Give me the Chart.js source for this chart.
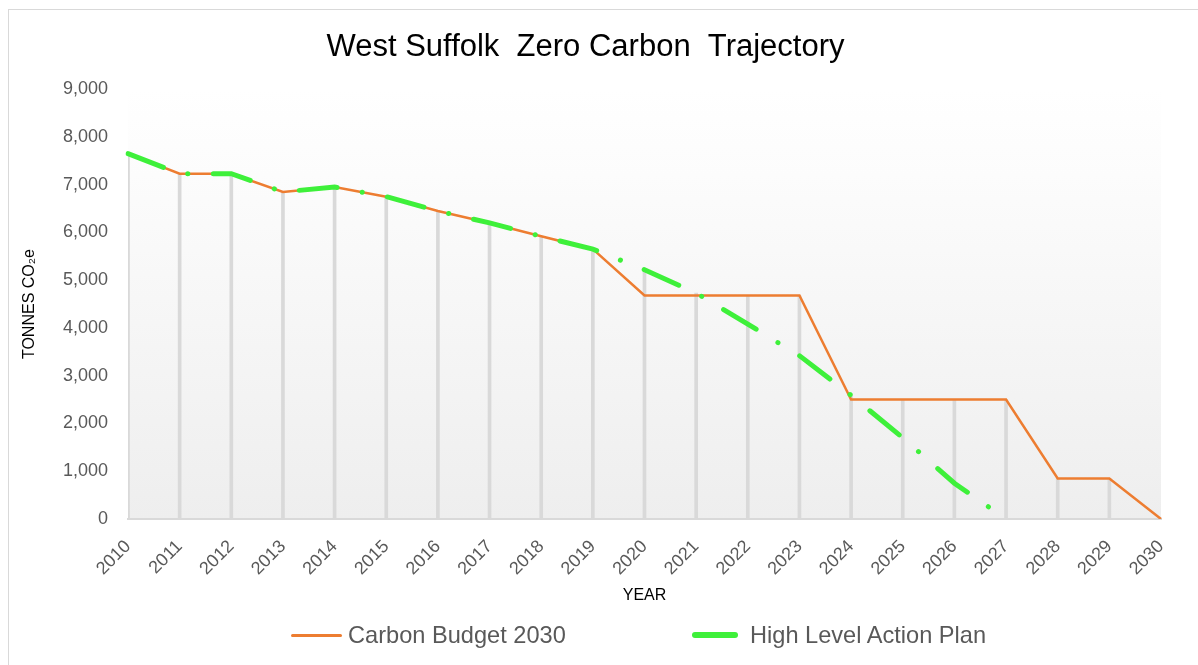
<!DOCTYPE html>
<html>
<head>
<meta charset="utf-8">
<title>West Suffolk Zero Carbon Trajectory</title>
<script src="https://cdn.jsdelivr.net/npm/chart.js@4.4.1/dist/chart.umd.min.js"></script>
<style>
  body { margin: 0; background: #fff; overflow: hidden; }
  #frame { position: absolute; left: 8px; top: 9px; width: 1250px; height: 700px; border: 1px solid #d9d9d9; }
  #wrap { position: absolute; left: 0; top: 0; width: 1198px; height: 665px; }
  .lg-swatch { position: absolute; }
  .lg-text { position: absolute; top: 621px; font: 23.6px "Liberation Sans", Arial, sans-serif; line-height: 28px; color: #595959; white-space: nowrap; }
</style>
</head>
<body>
<div id="frame"></div>
<div id="wrap"><canvas id="zeroChart"></canvas></div>
<div id="legend"></div>
<script>
const years = ['2010', '2011', '2012', '2013', '2014', '2015', '2016', '2017', '2018', '2019', '2020',
    '2021', '2022', '2023', '2024', '2025', '2026', '2027', '2028', '2029', '2030'];

// tonnes CO2e
const carbonBudget = [7650, 7230, 7230, 6850, 6950, 6750, 6450, 6200, 5920, 5650, 4680,
    4680, 4680, 4680, 2500, 2500, 2500, 2500, 850, 850, 0];

const actionPlan = [7650, 7230, 7230, 6850, 6950, 6750, 6450, 6200, 5920, 5650, 5220,
    4730, 4080, 3420, 2590, 1700, 750, 0, null, null, null];

const yTicks = [0, 1000, 2000, 3000, 4000, 5000, 6000, 7000, 8000, 9000];

const FONT = '"Liberation Sans", Arial, sans-serif';

// the grey drop lines go from the highest series down to the axis
const dropLines = years.map((y, i) => Math.max(carbonBudget[i], actionPlan[i] ?? 0));

const plotBackground = {
    id: 'plotBackground',
    beforeDraw(chart) {
        const { ctx, chartArea: a } = chart;
        const grad = ctx.createLinearGradient(0, a.top, 0, a.bottom);
        grad.addColorStop(0, '#ffffff');
        grad.addColorStop(0.2, '#fcfcfc');
        grad.addColorStop(1, '#eeeeee');
        ctx.save();
        ctx.fillStyle = grad;
        ctx.fillRect(a.left, a.top, a.right - a.left, a.bottom - a.top);
        ctx.restore();
    }
};

const ctx = document.getElementById('zeroChart').getContext('2d');

const chart = new Chart(ctx, {
    type: 'line',
    data: {
        labels: years,
        datasets: [{
            label: 'High Level Action Plan',
            data: actionPlan,
            borderColor: '#3ef03a',
            borderWidth: 5,
            borderDash: [38, 25.5, 0.1, 25.5],
            borderCapStyle: 'round',
            pointRadius: 0,
            tension: 0,
            order: 0
        }, {
            label: 'Carbon Budget 2030',
            data: carbonBudget,
            borderColor: '#ed7d31',
            borderWidth: 2.5,
            pointRadius: 0,
            tension: 0,
            order: 1
        }, {
            type: 'bar',
            label: 'drop',
            data: dropLines,
            backgroundColor: '#d9d9d9',
            barThickness: 3,
            order: 2
        }]
    },
    options: {
        responsive: true,
        maintainAspectRatio: false,
        animation: false,
        layout: { padding: { left: 10, right: 37, top: 10, bottom: 50 } },
        plugins: {
            legend: { display: false },
            tooltip: { enabled: false },
            title: {
                display: true,
                text: 'West Suffolk  Zero Carbon  Trajectory',
                color: '#000',
                font: { family: FONT, size: 31, weight: 'normal' },
                padding: { top: 19, bottom: 23 }
            }
        },
        scales: {
            x: {
                offset: false,
                grid: { display: false, drawTicks: false },
                border: { display: true, color: '#d9d9d9', width: 2 },
                ticks: {
                    color: '#595959',
                    font: { family: FONT, size: 18 },
                    minRotation: 45,
                    maxRotation: 45,
                    padding: 17,
                    autoSkip: false
                },
                title: {
                    display: true,
                    text: 'YEAR',
                    color: '#000',
                    font: { family: FONT, size: 16 },
                    padding: { top: 4, bottom: 10 }
                },
                afterFit(scale) { scale.height = 96; }
            },
            y: {
                min: 0,
                max: 9000,
                afterBuildTicks(scale) { scale.ticks = yTicks.map(v => ({ value: v })); },
                grid: { display: false, drawTicks: false },
                border: { display: false },
                ticks: {
                    color: '#595959',
                    font: { family: FONT, size: 18 },
                    padding: 20,
                    callback: v => v.toLocaleString('en-US')
                },
                title: {
                    display: true,
                    text: 'TONNES CO\u2082e',
                    color: '#000',
                    font: { family: FONT, size: 16 },
                    padding: { top: 10, bottom: 0 }
                },
                afterFit(scale) { scale.width = 118; }
            }
        }
    },
    plugins: [plotBackground]
});

// legend drawn as html so the item gap can be wide
const legendPos = {
    'Carbon Budget 2030': { left: 291, width: 51, height: 3, text: 348 },
    'High Level Action Plan': { left: 692, width: 46, height: 6, text: 750 }
};
const legendEl = document.getElementById('legend');
chart.data.datasets.filter(ds => legendPos[ds.label]).forEach(ds => {
    const p = legendPos[ds.label];
    const sw = document.createElement('div');
    sw.className = 'lg-swatch';
    sw.style.left = p.left + 'px';
    sw.style.width = p.width + 'px';
    sw.style.height = p.height + 'px';
    sw.style.top = (635 - p.height / 2) + 'px';
    sw.style.borderRadius = (p.height / 2) + 'px';
    sw.style.background = ds.borderColor;
    legendEl.appendChild(sw);
    const tx = document.createElement('div');
    tx.className = 'lg-text';
    tx.style.left = p.text + 'px';
    tx.textContent = ds.label;
    legendEl.appendChild(tx);
});
</script>
</body>
</html>
